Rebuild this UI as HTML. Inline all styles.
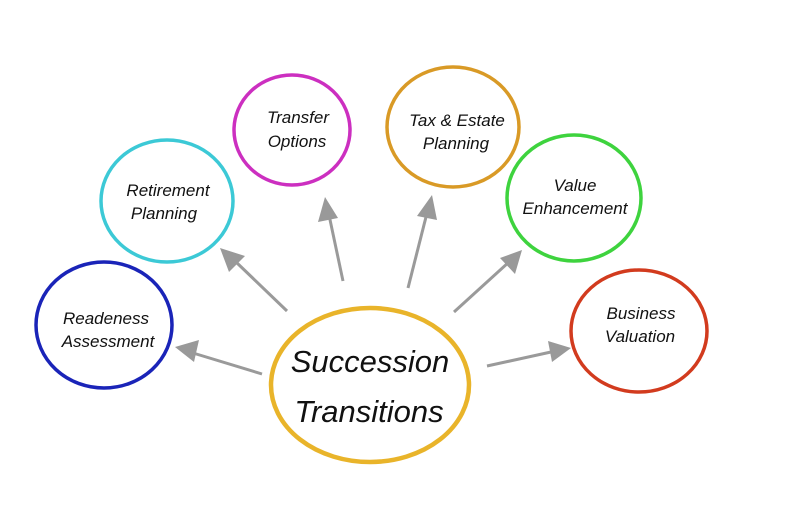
<!DOCTYPE html>
<html><head><meta charset="utf-8"><style>
html,body{margin:0;padding:0;background:#fff;}
svg{display:block;}
text{font-family:"Liberation Sans",sans-serif;font-style:italic;fill:#111;text-anchor:middle;}
</style></head><body>
<svg width="800" height="530" viewBox="0 0 800 530" xmlns="http://www.w3.org/2000/svg">
<g stroke="#9a9a9a" stroke-width="3" fill="none">
<line x1="262" y1="374" x2="193" y2="353"/>
<line x1="287" y1="311" x2="236" y2="262"/>
<line x1="343" y1="281" x2="329" y2="215"/>
<line x1="408" y1="288" x2="427" y2="213"/>
<line x1="454" y1="312" x2="509" y2="262"/>
<line x1="487" y1="366" x2="551" y2="352"/>
</g>
<g fill="#999">
<polygon points="175,347 199,340 194,362"/>
<polygon points="220,248 245,256 229,272"/>
<polygon points="325,197 338,218 318,222"/>
<polygon points="432,195 437,220 417,216"/>
<polygon points="522,250 515,274 500,258"/>
<polygon points="571,348 552,362 548,341"/>
</g>
<g fill="none">
<ellipse cx="370" cy="385" rx="99" ry="77" stroke="#e9b42a" stroke-width="4.5"/>
<ellipse cx="104" cy="325" rx="68" ry="63" stroke="#1a24b8" stroke-width="3.5"/>
<ellipse cx="167" cy="201" rx="66" ry="61" stroke="#3cc9d6" stroke-width="3.5"/>
<ellipse cx="292" cy="130" rx="58" ry="55" stroke="#cc2fc0" stroke-width="3.5"/>
<ellipse cx="453" cy="127" rx="66" ry="60" stroke="#d99a26" stroke-width="3.5"/>
<ellipse cx="574" cy="198" rx="67" ry="63" stroke="#3ed33e" stroke-width="3.5"/>
<ellipse cx="639" cy="331" rx="68" ry="61" stroke="#d23b1e" stroke-width="3.5"/>
</g>
<text x="370" y="372" font-size="31">Succession</text>
<text x="369" y="422" font-size="31">Transitions</text>
<text x="106" y="324" font-size="17">Readeness</text>
<text x="108" y="347" font-size="17">Assessment</text>
<text x="168" y="196" font-size="17">Retirement</text>
<text x="164" y="219" font-size="17">Planning</text>
<text x="298" y="123" font-size="17">Transfer</text>
<text x="297" y="147" font-size="17">Options</text>
<text x="457" y="126" font-size="17">Tax &amp; Estate</text>
<text x="456" y="149" font-size="17">Planning</text>
<text x="575" y="191" font-size="17">Value</text>
<text x="575" y="214" font-size="17">Enhancement</text>
<text x="641" y="319" font-size="17">Business</text>
<text x="640" y="342" font-size="17">Valuation</text>
</svg>
</body></html>
